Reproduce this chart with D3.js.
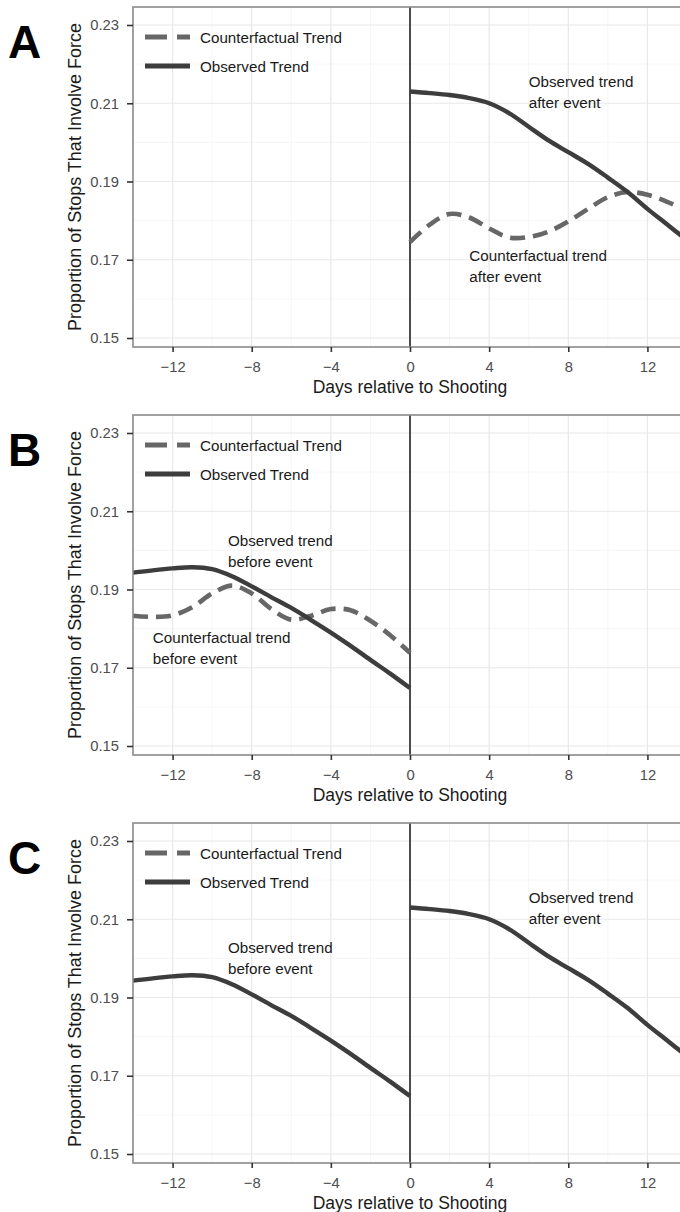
<!DOCTYPE html>
<html lang="en">
<head>
<meta charset="UTF-8">
<title>Observed vs counterfactual trend</title>
<script src="https://cdn.jsdelivr.net/npm/d3@7"></script>
<style>
    body { margin: 0; background: #fff; }
    svg { display: block; font-family: "Liberation Sans", Arial, sans-serif; }
</style>
</head>
<body>
<div id="chart"></div>
<script>
    // data
    const daysBefore = [-14, -13, -12, -11, -10, -9, -8, -7, -6, -5, -4, -3, -2, -1, 0]
    const daysAfter = [0, 1, 2, 3, 4, 5, 6, 7, 8, 9, 10, 11, 12, 13, 14]

    const observedBefore = [0.1943, 0.1949, 0.1954, 0.1957, 0.1952, 0.1934, 0.1908, 0.1880, 0.1853, 0.1822, 0.1790, 0.1756, 0.1720, 0.1685, 0.1648]
    const counterfactualBefore = [0.1833, 0.1830, 0.1834, 0.1855, 0.1890, 0.1910, 0.1890, 0.1850, 0.1823, 0.1833, 0.1850, 0.1847, 0.1820, 0.1783, 0.1738]
    const observedAfter = [0.2130, 0.2126, 0.2121, 0.2113, 0.2100, 0.2075, 0.2040, 0.2005, 0.1975, 0.1945, 0.1910, 0.1873, 0.1830, 0.1790, 0.1750]
    const counterfactualAfter = [0.1745, 0.1790, 0.1817, 0.1808, 0.1780, 0.1757, 0.1758, 0.1772, 0.1798, 0.1830, 0.1860, 0.1873, 0.1866, 0.1848, 0.1825]

    const xMajor = [-12, -8, -4, 0, 4, 8, 12]
    const xMinor = [-14, -10, -6, -2, 2, 6, 10, 14]
    const yMajor = [0.15, 0.17, 0.19, 0.21, 0.23]
    const yMinor = [0.16, 0.18, 0.20, 0.22]

    const legendLabels = ["Counterfactual Trend", "Observed Trend"]
    const panelLetters = ["A", "B", "C"]

    const panels = [
        {
            series: [
                {days: daysAfter, values: counterfactualAfter, dashed: true},
                {days: daysAfter, values: observedAfter, dashed: false}
            ],
            notes: [
                {x: 6, y: 0.2154, lines: ["Observed trend", "after event"]},
                {x: 3, y: 0.1710, lines: ["Counterfactual trend", "after event"]}
            ]
        },
        {
            series: [
                {days: daysBefore, values: counterfactualBefore, dashed: true},
                {days: daysBefore, values: observedBefore, dashed: false}
            ],
            notes: [
                {x: -9.2, y: 0.2024, lines: ["Observed trend", "before event"]},
                {x: -13, y: 0.1777, lines: ["Counterfactual trend", "before event"]}
            ]
        },
        {
            series: [
                {days: daysBefore, values: observedBefore, dashed: false},
                {days: daysAfter, values: observedAfter, dashed: false}
            ],
            notes: [
                {x: -9.2, y: 0.2027, lines: ["Observed trend", "before event"]},
                {x: 6, y: 0.2154, lines: ["Observed trend", "after event"]}
            ]
        }
    ]

    const width = 680
    const height = 1212
    const panelTops = [7, 415, 823]
    const panelHeight = 340
    const plotLeft = 133
    const plotRight = 687

    const solidColor = "#3d3d3d"
    const dashColor = "#676767"
    const textColor = "#1a1a1a"

    const svg = d3.select("#chart").append("svg")
        .attr("width", width)
        .attr("height", height)

    const x = d3.scaleLinear().domain([-14, 14]).range([plotLeft, plotRight])

    panels.forEach((panel, i) => {
        const top = panelTops[i]
        const y = d3.scaleLinear().domain([0.15, 0.23]).range([top + 331, top + 18])
        const g = svg.append("g")

        // grid
        g.selectAll(".xminor").data(xMinor).enter().append("line")
            .attr("x1", (d) => x(d)).attr("x2", (d) => x(d))
            .attr("y1", top).attr("y2", top + panelHeight)
            .attr("stroke", "#f4f4f4").attr("stroke-width", 0.8)
        g.selectAll(".yminor").data(yMinor).enter().append("line")
            .attr("x1", plotLeft).attr("x2", plotRight)
            .attr("y1", (d) => y(d)).attr("y2", (d) => y(d))
            .attr("stroke", "#f4f4f4").attr("stroke-width", 0.8)
        g.selectAll(".xmajor").data(xMajor).enter().append("line")
            .attr("x1", (d) => x(d)).attr("x2", (d) => x(d))
            .attr("y1", top).attr("y2", top + panelHeight)
            .attr("stroke", "#e8e8e8").attr("stroke-width", 1.2)
        g.selectAll(".ymajor").data(yMajor).enter().append("line")
            .attr("x1", plotLeft).attr("x2", plotRight)
            .attr("y1", (d) => y(d)).attr("y2", (d) => y(d))
            .attr("stroke", "#e8e8e8").attr("stroke-width", 1.2)

        // event line
        g.append("line")
            .attr("x1", x(0)).attr("x2", x(0))
            .attr("y1", top).attr("y2", top + panelHeight)
            .attr("stroke", "#222").attr("stroke-width", 1.6)

        // trends
        const line = d3.line()
            .x((d) => x(d[0]))
            .y((d) => y(d[1]))
            .curve(d3.curveCatmullRom.alpha(0.5))

        panel.series.forEach((s) => {
            g.append("path")
                .datum(s.days.map((d, k) => [d, s.values[k]]))
                .attr("d", line)
                .attr("fill", "none")
                .attr("stroke", s.dashed ? dashColor : solidColor)
                .attr("stroke-width", s.dashed ? 4.6 : 4.4)
                .attr("stroke-dasharray", s.dashed ? "15,8" : null)
        })

        // border
        g.append("rect")
            .attr("x", plotLeft).attr("y", top)
            .attr("width", plotRight - plotLeft).attr("height", panelHeight)
            .attr("fill", "none").attr("stroke", "#8a8a8a").attr("stroke-width", 1.6)

        // y axis
        const yAxis = d3.axisLeft(y).tickValues(yMajor).tickSize(6).tickPadding(8)
            .tickFormat(d3.format(".2f"))
        const ya = g.append("g").attr("transform", `translate(${plotLeft},0)`).call(yAxis)
        ya.select(".domain").remove()
        ya.selectAll(".tick line").attr("stroke", "#333").attr("stroke-width", 1.6)
        ya.selectAll(".tick text").attr("fill", "#4d4d4d")
            .style("font-size", "14.8px").style("font-family", "Liberation Sans, Arial, sans-serif")

        // x axis
        const xAxis = d3.axisBottom(x).tickValues(xMajor).tickSize(5).tickPadding(9)
            .tickFormat((d) => d < 0 ? "\u2212" + Math.abs(d) : d)
        const xa = g.append("g").attr("transform", `translate(0,${top + panelHeight})`).call(xAxis)
        xa.select(".domain").remove()
        xa.selectAll(".tick line").attr("stroke", "#333").attr("stroke-width", 1.6)
        xa.selectAll(".tick text").attr("fill", "#4d4d4d")
            .style("font-size", "14.8px").style("font-family", "Liberation Sans, Arial, sans-serif")

        // titles
        g.append("text")
            .attr("x", x(0)).attr("y", top + 386)
            .attr("text-anchor", "middle")
            .style("font-size", "17.5px").attr("fill", textColor)
            .text("Days relative to Shooting")

        g.append("text")
            .attr("transform", `translate(75,${top + panelHeight / 2}) rotate(-90)`)
            .attr("text-anchor", "middle")
            .attr("dominant-baseline", "central")
            .style("font-size", "18px").attr("fill", textColor)
            .text("Proportion of Stops That Involve Force")

        g.append("text")
            .attr("x", 8).attr("y", top + 51)
            .style("font-size", "46px").style("font-weight", "bold").attr("fill", "#000")
            .text(panelLetters[i])

        // legend
        legendLabels.forEach((label, k) => {
            const ly = top + 30 + k * 29
            g.append("line")
                .attr("x1", 145).attr("x2", 190)
                .attr("y1", ly).attr("y2", ly)
                .attr("stroke", k === 0 ? dashColor : solidColor)
                .attr("stroke-width", 5)
                .attr("stroke-dasharray", k === 0 ? "22,10" : null)
            g.append("text")
                .attr("x", 200).attr("y", ly)
                .attr("dominant-baseline", "central")
                .style("font-size", "15.2px").attr("fill", textColor)
                .text(label)
        })

        // annotations
        panel.notes.forEach((n) => {
            const t = g.append("text")
                .attr("x", x(n.x)).attr("y", y(n.y))
                .style("font-size", "15.2px").attr("fill", textColor)
            n.lines.forEach((ln, k) => {
                t.append("tspan")
                    .attr("x", x(n.x))
                    .attr("dy", k === 0 ? "0.35em" : 21)
                    .text(ln)
            })
        })
    })
</script>
</body>
</html>
